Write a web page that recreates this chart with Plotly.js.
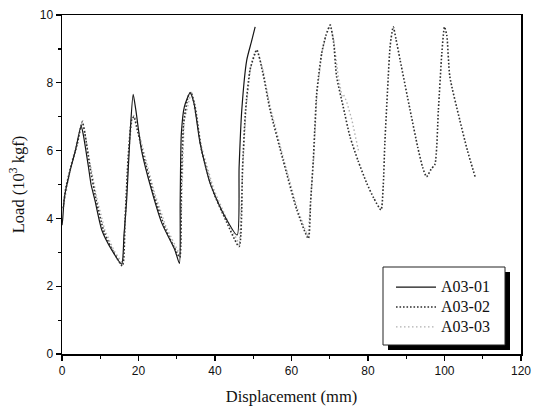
<!DOCTYPE html>
<html>
<head>
<meta charset="utf-8">
<script src="https://cdn.plot.ly/plotly-3.0.1.min.js"></script>
<style>html,body{margin:0;padding:0;background:#fff;}#chart{width:539px;height:408px;}</style>
</head>
<body>
<div id="chart"></div>
<script>
// Series A03-01 (solid)
const x01 = [0, 0.2, 0.6, 2.1, 3.5, 5.0, 5.6, 6.9, 7.6, 8.6, 10.4, 13.0, 15.6, 16.2, 16.9, 17.8, 18.6, 19.3, 20.8, 23.4, 26.1, 29.5, 30.7, 30.9, 31.2, 32.0, 33.5, 34.5, 36.1, 38.7, 42.1, 45.8, 46.3, 47.0, 48.3, 49.5, 50.5];
const y01 = [3.8, 4.0, 4.6, 5.4, 6.0, 6.73, 6.45, 5.53, 5.0, 4.54, 3.66, 3.07, 2.65, 3.5, 4.54, 6.5, 7.66, 7.2, 6.0, 4.84, 3.86, 3.07, 2.67, 4.5, 6.5, 7.3, 7.7, 7.4, 6.22, 5.04, 4.16, 3.51, 5.5, 7.2, 8.67, 9.2, 9.65];

// Series A03-02 (dotted)
const x02 = [0.3, 1.0, 2.5, 4.0, 5.3, 6.0, 7.2, 9.0, 11.0, 13.5, 15.8, 16.5, 17.3, 18.2, 18.8, 19.5, 21.0, 24.0, 27.0, 30.0, 30.8, 31.2, 31.8, 33.0, 33.7, 34.8, 36.5, 39.5, 43.0, 46.3, 47.2, 48.0, 49.2, 50.9, 52.5, 54.4, 57.8, 61.4, 64.4, 65.0, 65.7, 66.6, 67.9, 69.0, 70.1, 71.0, 71.8, 73.5, 75.3, 77.4, 79.7, 81.5, 83.4, 84.0, 84.4, 85.3, 85.8, 86.6, 87.3, 88.4, 91.0, 93.0, 94.3, 95.3, 96.5, 97.5, 98.4, 99.3, 100.0, 100.6, 101.4, 104.0, 106.0, 108.0];
const y02 = [4.3, 4.9, 5.6, 6.2, 6.85, 6.5, 5.6, 4.5, 3.6, 3.0, 2.6, 4.0, 5.8, 6.9, 7.0, 6.7, 6.0, 4.7, 3.7, 3.0, 2.85, 5.0, 6.8, 7.6, 7.72, 7.3, 6.0, 4.8, 3.9, 3.17, 5.5, 7.2, 8.4, 8.97, 8.3, 7.2, 5.72, 4.25, 3.41, 4.5, 5.72, 7.7, 8.88, 9.4, 9.7, 9.2, 8.18, 7.3, 6.41, 5.7, 5.03, 4.6, 4.25, 5.0, 6.21, 8.18, 9.1, 9.65, 9.3, 8.67, 7.2, 6.1, 5.5, 5.23, 5.45, 5.6, 7.2, 8.87, 9.65, 9.4, 8.18, 6.9, 6.0, 5.23];

// Series A03-03 (light dotted)
const x03 = [0.4, 2.5, 5.4, 7.3, 9.2, 11.2, 13.6, 15.9, 16.6, 17.4, 18.3, 18.9, 21.2, 24.2, 27.2, 30.1, 30.9, 31.9, 33.8, 36.6, 39.7, 43.2, 46.4, 47.3, 48.1, 49.3, 51.0, 52.6, 54.5, 57.9, 61.5, 64.3, 65.1, 65.8, 66.7, 68.0, 69.1, 70.2, 71.1, 72.2, 73.2, 73.6, 74.4, 75.8, 77.5];
const y03 = [4.35, 5.65, 6.9, 5.65, 4.55, 3.65, 3.05, 2.65, 4.05, 5.85, 6.95, 7.05, 6.05, 4.75, 3.75, 3.05, 2.9, 6.85, 7.75, 6.05, 4.85, 3.95, 3.22, 5.55, 7.25, 8.45, 9.0, 8.35, 7.25, 5.77, 4.3, 3.45, 4.55, 5.77, 7.75, 8.92, 9.42, 9.72, 9.22, 8.2, 7.6, 7.65, 7.45, 6.9, 6.0];

const names = ['A03-01', 'A03-02', 'A03-03'];
const lbl = s => '<span style="font-size:16px">' + s + '</span>';

const traces = [
  {x: x03, y: y03, name: lbl(names[2]), mode: 'lines', legendrank: 3,
   line: {color: '#b0b0b0', width: 1.4, dash: '1.5px,2.5px'}},
  {x: x01, y: y01, name: lbl(names[0]), mode: 'lines', legendrank: 1,
   line: {color: '#151515', width: 1.2, shape: 'spline', smoothing: 0.6}},
  {x: x02, y: y02, name: lbl(names[1]), mode: 'lines', legendrank: 2,
   line: {color: '#2e2e2e', width: 1.6, dash: '1.6px,1.9px', shape: 'spline', smoothing: 0.6}}
];

// legend box in paper coords
const bx0 = (383 - 62) / 459, bx1 = (505 - 62) / 459;
const by1 = (354 - 267) / 339, by0 = (354 - 345) / 339;
const sx = 5 / 459, sy = 5 / 339;

const layout = {
  width: 539, height: 408,
  margin: {l: 62, r: 18, t: 15, b: 54},
  paper_bgcolor: '#fff', plot_bgcolor: '#fff',
  showlegend: true,
  legend: {
    x: (391 - 62) / 459, y: by1 - 0.015, xanchor: 'left', yanchor: 'top',
    bgcolor: 'rgba(0,0,0,0)', borderwidth: 0,
    font: {family: 'Liberation Serif, Times New Roman, serif', size: 13, color: '#111'},
    tracegroupgap: 0, itemwidth: 40
  },
  xaxis: {
    range: [0, 120], tickvals: [0, 20, 40, 60, 80, 100, 120],
    ticks: 'outside', ticklen: 5, tickwidth: 1.3, tickcolor: '#000',
    minor: {tickvals: [10, 30, 50, 70, 90, 110], ticks: 'outside', ticklen: 3, tickwidth: 1.2, tickcolor: '#000'},
    showline: true, linecolor: '#000', linewidth: 1.5, mirror: true,
    showgrid: false, zeroline: false,
    tickfont: {family: 'Liberation Sans, Arial, sans-serif', size: 12, color: '#111'},
    title: {text: 'Displacement (mm)', standoff: 13,
            font: {family: 'Liberation Serif, Times New Roman, serif', size: 16.5, color: '#111'}}
  },
  yaxis: {
    range: [0, 10], tickvals: [0, 2, 4, 6, 8, 10],
    ticks: 'outside', ticklen: 5, tickwidth: 1.3, tickcolor: '#000',
    minor: {tickvals: [1, 3, 5, 7, 9], ticks: 'outside', ticklen: 3, tickwidth: 1.2, tickcolor: '#000'},
    showline: true, linecolor: '#000', linewidth: 1.5, mirror: true,
    showgrid: false, zeroline: false,
    tickfont: {family: 'Liberation Sans, Arial, sans-serif', size: 12, color: '#111'},
    title: {text: 'Load (10<sup>3</sup> kgf)', standoff: 11,
            font: {family: 'Liberation Serif, Times New Roman, serif', size: 16.5, color: '#111'}}
  },
  shapes: [
    {type: 'rect', xref: 'paper', yref: 'paper', x0: bx0 + sx, x1: bx1 + sx, y0: by0 - sy, y1: by1 - sy,
     fillcolor: '#000', line: {width: 0}, layer: 'above'},
    {type: 'rect', xref: 'paper', yref: 'paper', x0: bx0, x1: bx1, y0: by0, y1: by1,
     fillcolor: '#fff', line: {color: '#222', width: 1}, layer: 'above'}
  ]
};

Plotly.newPlot('chart', traces, layout, {displayModeBar: false, staticPlot: true});
</script>
</body>
</html>
